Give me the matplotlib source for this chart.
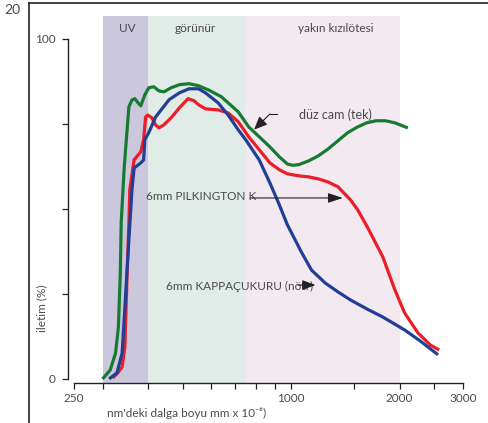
import matplotlib
matplotlib.use("Agg")
import matplotlib.pyplot as plt
from matplotlib.lines import Line2D
from matplotlib.ticker import FixedLocator, FuncFormatter, NullLocator

plt.rcParams['font.family'] = ['Lato', 'DejaVu Sans']

# ---- data ----
green_nm = [300, 315, 326, 332, 336, 338, 344, 349, 355, 362, 369, 376, 383, 393, 403, 416, 430, 444,
            465, 490, 521, 554, 589, 640, 714, 763, 816, 874, 928, 977, 1010, 1051, 1119, 1191, 1267,
            1349, 1436, 1531, 1622, 1722, 1827, 1941, 2109]
green_pct = [0, 2.6, 7.6, 15.3, 31, 46, 61, 70, 80, 82, 82.4, 81.2, 80.3, 83.5, 85.6, 85.9, 84.7, 84.4,
             85.6, 86.5, 86.8, 86.2, 85.0, 83.0, 78.5, 74.1, 71.2, 68.2, 65.3, 63.2, 62.8, 63.0, 64.1, 65.6, 67.6,
             70.0, 72.4, 74.1, 75.3, 75.9, 75.9, 75.3, 73.8]

red_nm = [320, 329, 340, 346, 351, 355, 357, 367, 383, 390, 395, 400, 411, 421, 430, 444, 467, 490,
          518, 538, 554, 579, 627, 669, 714, 763, 816, 874, 928, 977, 1051, 1119, 1191, 1267, 1349,
          1463, 1531, 1622, 1797, 1941, 2066, 2251, 2434, 2577]
red_pct = [0.3, 1.5, 3.5, 9.4, 31, 46, 55.6, 64.4, 66.8, 70.3, 77, 77.6, 76.8, 74.7, 73.8, 74.7, 77, 79.7,
           82.4, 81.8, 80.6, 79.4, 79.1, 78.2, 75.6, 71.2, 67.4, 63.5, 61.5, 60.3, 59.7, 59.4, 58.8, 57.9,
           56.5, 52.6, 49.7, 45, 35.9, 26.2, 19.4, 13.5, 10, 8.5]

blue_nm = [313, 329, 340, 346, 355, 362, 367, 383, 390, 393, 403, 421, 459, 490, 521, 554, 579, 627,
           669, 714, 749, 816, 874, 928, 977, 1071, 1140, 1244, 1349, 1463, 1622, 1797, 2066, 2280, 2558]
blue_pct = [0, 1.8, 7.6, 21, 41, 55.6, 62, 63.5, 64.4, 70.3, 72.4, 77, 82.1, 84.1, 85.3, 85.3, 84.1, 81.2,
            77.6, 73.2, 70.3, 64.4, 57.6, 51.2, 45.3, 37.1, 32, 28.2, 25.6, 23.2, 20.6, 18.2, 14.4, 11.2, 7.1]

bands = [(300, 400, 'UV'), (400, 750, 'görünür'), (750, 2000, 'yakın kızılötesi')]
band_label_x = [351, 544, 1332]
band_colors = ['#cbc8de', '#e1ebe7', '#f3e9f1']

x_ticks = [250, 300, 400, 500, 600, 700, 800, 900, 1000, 1500, 2000, 2500, 3000]
x_labeled = [250, 1000, 2000, 3000]
y_ticks = [0, 25, 50, 75, 100]
y_labeled = [0, 100]

GREEN = '#177a32'
RED = '#ee1d25'
BLUE = '#223f95'
TXT = '#4a4a4a'

W, H = 489, 423
fig = plt.figure(figsize=(W / 100, H / 100), dpi=100)
ax = fig.add_axes([74 / W, (H - 383) / H, (463 - 74) / W, (383 - 16) / H])

ax.set_xscale('log')
ax.set_xlim(250, 3000)
ax.set_ylim(-1.2, 106.7)

for (x0, x1, lab), c, lx in zip(bands, band_colors, band_label_x):
    ax.axvspan(x0, x1, color=c, lw=0, zorder=0)
    ax.text(lx, 102.9, lab, ha='center', va='center', fontsize=8.5, color=TXT)

for xs, ys, col in [(green_nm, green_pct, GREEN), (red_nm, red_pct, RED), (blue_nm, blue_pct, BLUE)]:
    ax.plot(xs, ys, color=col, lw=2.3, solid_capstyle='butt', solid_joinstyle='round', zorder=3)

# annotations
ax.text(1051, 77.6, 'düz cam (tek)', ha='left', va='center', fontsize=9, color=TXT)
ax.plot([874, 917], [77.9, 77.9], color='#222222', lw=0.8, zorder=4)
ax.annotate('', xy=(790, 73.3), xytext=(874, 77.9),
            arrowprops=dict(arrowstyle='-|>,head_length=0.8,head_width=0.35', color='#222222', lw=0.8,
                            shrinkA=0, shrinkB=0), zorder=4)

ax.text(397, 53.5, '6mm PILKINGTON K', ha='left', va='center', fontsize=8.5, color=TXT)
ax.annotate('', xy=(1392, 53.2), xytext=(770, 53.2),
            arrowprops=dict(arrowstyle='-|>,head_length=0.9,head_width=0.3', color='#222222', lw=0.8,
                            shrinkA=0, shrinkB=0), zorder=4)

ax.text(450, 27.2, '6mm KAPPAÇUKURU (nötr)', ha='left', va='center', fontsize=8.5, color=TXT)
ax.annotate('', xy=(1169, 27.6), xytext=(1045, 27.6),
            arrowprops=dict(arrowstyle='-|>,head_length=0.8,head_width=0.3', color='#222222', lw=0.8,
                            shrinkA=0, shrinkB=0), zorder=4)

# axes styling
for s in ['top', 'right']:
    ax.spines[s].set_visible(False)
ax.spines['left'].set_position(('outward', 4))
ax.spines['left'].set_bounds(0, 100)
ax.spines['bottom'].set_bounds(250, 3000)
for s in ['left', 'bottom']:
    ax.spines[s].set_color('#222222')
    ax.spines[s].set_linewidth(1.0)

ax.xaxis.set_major_locator(FixedLocator(x_ticks))
ax.xaxis.set_minor_locator(NullLocator())
ax.xaxis.set_major_formatter(FuncFormatter(lambda v, p: f'{int(round(v))}' if int(round(v)) in x_labeled else ''))
ax.yaxis.set_major_locator(FixedLocator(y_ticks))
ax.yaxis.set_major_formatter(FuncFormatter(lambda v, p: f'{int(round(v))}' if int(round(v)) in y_labeled else ''))
ax.tick_params(axis='x', direction='out', length=4, width=0.9, color='#222222', labelsize=8.5,
               labelcolor=TXT, pad=3)
ax.tick_params(axis='y', direction='out', length=4, width=0.9, color='#222222', labelsize=8.5,
               labelcolor=TXT, pad=5)

fig.text(107 / W, 1 - 413 / H, "nm'deki dalga boyu mm x 10⁻⁶)", ha='left', va='center', fontsize=8.5,
         color=TXT, family=['Lato', 'DejaVu Sans'])
fig.text(42 / W, 1 - 308 / H, 'iletim (%)', ha='center', va='center', rotation=90, fontsize=8.5, color=TXT)
fig.text(12.5 / W, 1 - 10 / H, '20', ha='center', va='center', fontsize=10, color=TXT)

# outer frame
fig.add_artist(Line2D([29 / W, 1], [1 - 3 / H, 1 - 3 / H], transform=fig.transFigure, color='#222222', lw=1.2))
fig.add_artist(Line2D([29 / W, 29 / W], [0, 1 - 3 / H], transform=fig.transFigure, color='#222222', lw=1.2))

fig.savefig('out.png', dpi=100)
